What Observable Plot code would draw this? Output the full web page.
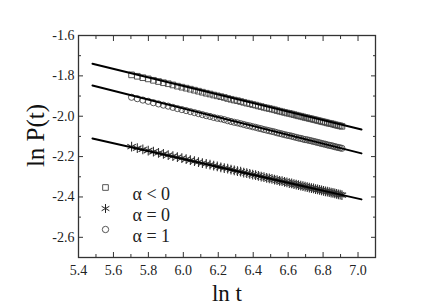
<!DOCTYPE html>
<html>
<head>
<meta charset="utf-8">
<script src="https://cdn.jsdelivr.net/npm/d3@7"></script>
<script src="https://cdn.jsdelivr.net/npm/@observablehq/plot@0.6"></script>
<style>
  html, body { margin: 0; padding: 0; background: #fff; }
  #chart { width: 436px; height: 308px; }
</style>
</head>
<body>
<div id="chart"></div>
<script>
// ln t sample positions (t = 300 ... 1000)
const lnT = [5.7038, 5.7366, 5.7683, 5.7991, 5.8289, 5.8579, 5.8861, 5.9135, 5.9402, 5.9661,
  5.9915, 6.0162, 6.0403, 6.0638, 6.0868, 6.1092, 6.1312, 6.1527, 6.1738, 6.1944,
  6.2146, 6.2344, 6.2538, 6.2729, 6.2916, 6.3099, 6.3279, 6.3456, 6.3630, 6.3801,
  6.3969, 6.4135, 6.4297, 6.4457, 6.4615, 6.4770, 6.4922, 6.5073, 6.5221, 6.5367,
  6.5511, 6.5653, 6.5793, 6.5930, 6.6067, 6.6201, 6.6333, 6.6464, 6.6593, 6.6720,
  6.6846, 6.6970, 6.7093, 6.7214, 6.7334, 6.7452, 6.7569, 6.7685, 6.7799, 6.7912,
  6.8024, 6.8134, 6.8244, 6.8352, 6.8459, 6.8565, 6.8669, 6.8773, 6.8876, 6.8977, 6.9078];

// alpha < 0 (squares)
const lnPneg = [-1.795, -1.802, -1.809, -1.815, -1.822, -1.828, -1.834, -1.839, -1.845, -1.851,
  -1.856, -1.861, -1.866, -1.871, -1.876, -1.881, -1.886, -1.890, -1.895, -1.899,
  -1.903, -1.907, -1.912, -1.916, -1.920, -1.923, -1.927, -1.931, -1.935, -1.938,
  -1.942, -1.945, -1.949, -1.952, -1.956, -1.959, -1.962, -1.965, -1.968, -1.972,
  -1.975, -1.978, -1.981, -1.984, -1.986, -1.989, -1.992, -1.995, -1.998, -2.000,
  -2.003, -2.006, -2.008, -2.011, -2.013, -2.016, -2.018, -2.021, -2.023, -2.026,
  -2.028, -2.030, -2.033, -2.035, -2.037, -2.039, -2.042, -2.044, -2.046, -2.048, -2.050];

// alpha = 0 (asterisks)
const lnPzero = [-2.151, -2.158, -2.164, -2.170, -2.176, -2.182, -2.187, -2.193, -2.198, -2.203,
  -2.208, -2.213, -2.218, -2.223, -2.227, -2.232, -2.236, -2.240, -2.245, -2.249,
  -2.253, -2.257, -2.260, -2.264, -2.268, -2.272, -2.275, -2.279, -2.282, -2.286,
  -2.289, -2.292, -2.295, -2.299, -2.302, -2.305, -2.308, -2.311, -2.314, -2.317,
  -2.320, -2.322, -2.325, -2.328, -2.331, -2.333, -2.336, -2.339, -2.341, -2.344,
  -2.346, -2.349, -2.351, -2.354, -2.356, -2.358, -2.361, -2.363, -2.365, -2.367,
  -2.370, -2.372, -2.374, -2.376, -2.378, -2.380, -2.382, -2.385, -2.387, -2.389, -2.391];

// alpha = 1 (circles)
const lnPone = [-1.906, -1.913, -1.920, -1.926, -1.933, -1.939, -1.945, -1.950, -1.956, -1.962,
  -1.967, -1.972, -1.977, -1.982, -1.987, -1.992, -1.997, -2.001, -2.006, -2.010,
  -2.013, -2.017, -2.022, -2.026, -2.030, -2.033, -2.037, -2.041, -2.045, -2.048,
  -2.052, -2.055, -2.059, -2.062, -2.066, -2.069, -2.072, -2.075, -2.078, -2.082,
  -2.085, -2.088, -2.091, -2.094, -2.096, -2.099, -2.102, -2.105, -2.108, -2.110,
  -2.113, -2.116, -2.117, -2.120, -2.122, -2.125, -2.127, -2.130, -2.132, -2.135,
  -2.137, -2.139, -2.142, -2.144, -2.146, -2.148, -2.151, -2.153, -2.155, -2.157, -2.159];

// fitted straight lines
const fitLnT = [5.48, 7.02];
const fitNeg = [-1.740, -2.066];
const fitOne = [-1.848, -2.184];
const fitZero = [-2.110, -2.412];

// axis ticks
const xTicks = [5.4, 5.6, 5.8, 6.0, 6.2, 6.4, 6.6, 6.8, 7.0];
const xMinor = [5.5, 5.7, 5.9, 6.1, 6.3, 6.5, 6.7, 6.9, 7.1];
const yTicks = [-2.6, -2.4, -2.2, -2.0, -1.8, -1.6];
const yMinor = [-2.7, -2.5, -2.3, -2.1, -1.9, -1.7];

const legendLabels = ["α < 0", "α = 0", "α = 1"];
const xLabel = "ln t";
const yLabel = "ln P(t)";

const pts = (ys) => lnT.map((x, i) => ({x, y: ys[i]}));
const fit = (ys) => fitLnT.map((x, i) => ({x, y: ys[i]}));
const fmt = d => d.toFixed(1);
const blank = () => "";
const tickColor = "#333";
const serif = "'Liberation Serif', 'Times New Roman', serif";

const chart = Plot.plot({
  width: 436,
  height: 308,
  marginLeft: 78,
  marginRight: 61,
  marginTop: 35,
  marginBottom: 51,
  style: {fontFamily: serif, fontSize: "14px", color: "#222", background: "#fff"},
  x: {domain: [5.4, 7.1]},
  y: {domain: [-2.7, -1.6]},
  marks: [
    // data markers
    Plot.dot(pts(lnPneg), {x: "x", y: "y", symbol: "square", r: 3.2, stroke: "#444", strokeWidth: 0.9, fill: "none"}),
    Plot.dot(pts(lnPone), {x: "x", y: "y", symbol: "circle", r: 3.1, stroke: "#444", strokeWidth: 0.9, fill: "none"}),
    Plot.dot(pts(lnPzero), {x: "x", y: "y", symbol: "asterisk", r: 4.6, stroke: "#333", strokeWidth: 1.1, fill: "none"}),
    // fitted lines
    Plot.line(fit(fitNeg), {x: "x", y: "y", stroke: "#000", strokeWidth: 2}),
    Plot.line(fit(fitOne), {x: "x", y: "y", stroke: "#000", strokeWidth: 2}),
    Plot.line(fit(fitZero), {x: "x", y: "y", stroke: "#000", strokeWidth: 2}),
    // frame
    Plot.frame({stroke: tickColor, strokeWidth: 1.3}),
    // bottom axis
    Plot.axisX(xTicks, {anchor: "bottom", tickSize: -5, tickPadding: 13, tickFormat: fmt, label: null, stroke: tickColor, fill: "#222", fontFamily: serif, fontSize: 14}),
    Plot.axisX(xMinor, {anchor: "bottom", tickSize: -3, tickFormat: blank, label: null, stroke: tickColor}),
    Plot.axisX([], {anchor: "bottom", tickSize: 0, label: xLabel, labelAnchor: "center", labelArrow: "none", labelOffset: 43, fontFamily: serif, fontSize: 23, fill: "#111"}),
    // top axis
    Plot.axisX(xTicks, {anchor: "top", tickSize: -5, tickFormat: blank, label: null, stroke: tickColor}),
    Plot.axisX(xMinor, {anchor: "top", tickSize: -3, tickFormat: blank, label: null, stroke: tickColor}),
    // left axis
    Plot.axisY(yTicks, {anchor: "left", tickSize: -5, tickPadding: 9, tickFormat: fmt, label: null, stroke: tickColor, fill: "#222", fontFamily: serif, fontSize: 14}),
    Plot.axisY(yMinor, {anchor: "left", tickSize: -3, tickFormat: blank, label: null, stroke: tickColor}),
    // right axis
    Plot.axisY(yTicks, {anchor: "right", tickSize: -5, tickFormat: blank, label: null, stroke: tickColor}),
    Plot.axisY(yMinor, {anchor: "right", tickSize: -3, tickFormat: blank, label: null, stroke: tickColor}),
    // y title
    Plot.text([yLabel], {x: null, y: null, text: d => d, frameAnchor: "left", dx: -43, dy: -11, rotate: -90, textAnchor: "middle", fontFamily: serif, fontSize: 25, fill: "#111"}),
    // legend
    Plot.dot([legendLabels[0]], {x: null, y: null, frameAnchor: "top-left", dx: 27, dy: 152, symbol: "square", r: 3.2, stroke: "#444", strokeWidth: 0.9, fill: "none"}),
    Plot.dot([legendLabels[1]], {x: null, y: null, frameAnchor: "top-left", dx: 27, dy: 173, symbol: "asterisk", r: 4.2, stroke: "#222", strokeWidth: 1, fill: "none"}),
    Plot.dot([legendLabels[2]], {x: null, y: null, frameAnchor: "top-left", dx: 27, dy: 194, symbol: "circle", r: 3.2, stroke: "#444", strokeWidth: 0.9, fill: "none"}),
    Plot.text([legendLabels[0]], {frameAnchor: "top-left", dx: 54, dy: 152, textAnchor: "start", fontFamily: serif, fontSize: 18, fill: "#222"}),
    Plot.text([legendLabels[1]], {frameAnchor: "top-left", dx: 54, dy: 173, textAnchor: "start", fontFamily: serif, fontSize: 18, fill: "#222"}),
    Plot.text([legendLabels[2]], {frameAnchor: "top-left", dx: 54, dy: 194, textAnchor: "start", fontFamily: serif, fontSize: 18, fill: "#222"})
  ]
});
document.getElementById("chart").appendChild(chart);
</script>
</body>
</html>
